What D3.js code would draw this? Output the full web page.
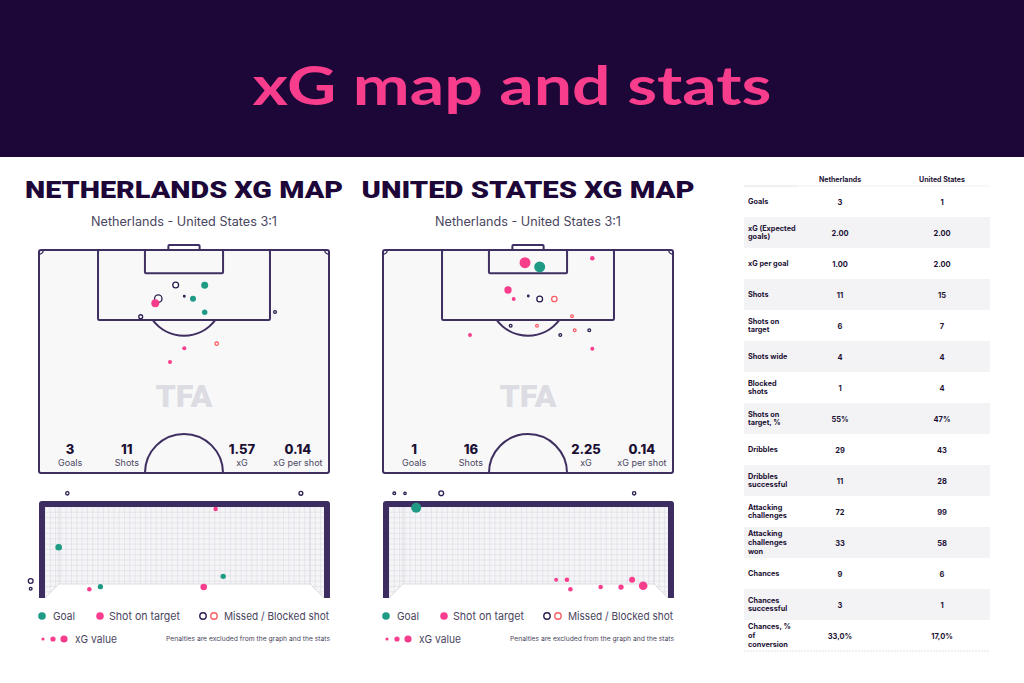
<!DOCTYPE html>
<html><head><meta charset="utf-8">
<script src="https://cdn.jsdelivr.net/npm/d3@7"></script>
<style>body{margin:0;background:#fff;} svg{display:block;font-family:Inter,"Open Sans",sans-serif;}</style>
</head><body><svg id="c" width="1024" height="683"></svg>
<script>
// ---------- DATA ----------
const pageTitle = "xG map and stats";
const mapTitles = ["NETHERLANDS XG MAP", "UNITED STATES XG MAP"];
const matchLabel = "Netherlands - United States 3:1";
const summaryLabels = ["Goals", "Shots", "xG", "xG per shot"];
const nlSummary = ["3", "11", "1.57", "0.14"];
const usSummary = ["1", "16", "2.25", "0.14"];

// pitch shots: [x metres across pitch, y metres from goal line, xG, outcome]
const nlShots = [
  [32.05, 8.24, 0.19, "missed"], [38.85, 8.31, 0.19, "goal"], [27.97, 11.46, 0.29, "missed"],
  [27.27, 12.55, 0.25, "target"], [34.07, 10.90, 0.016, "missed"], [36.11, 11.46, 0.14, "goal"],
  [38.85, 14.67, 0.115, "goal"], [23.85, 15.70, 0.10, "missed"], [55.34, 14.60, 0.063, "missed"],
  [34.07, 23.14, 0.063, "target"], [41.67, 22.06, 0.083, "blocked"], [30.72, 26.37, 0.063, "target"]
];
const usShots = [
  [33.30, 2.99, 0.47, "target"], [36.74, 4.00, 0.47, "goal"], [49.08, 1.95, 0.083, "target"],
  [29.31, 9.42, 0.21, "target"], [30.65, 11.54, 0.06, "target"], [34.07, 10.83, 0.016, "missed"],
  [36.74, 11.54, 0.19, "missed"], [40.17, 11.54, 0.17, "blocked"], [44.32, 15.61, 0.06, "blocked"],
  [29.94, 17.82, 0.06, "missed"], [36.11, 17.82, 0.06, "blocked"], [44.95, 18.90, 0.06, "blocked"],
  [48.37, 18.90, 0.06, "missed"], [41.57, 20.01, 0.06, "missed"], [20.40, 20.01, 0.06, "target"],
  [49.08, 23.24, 0.06, "target"]
];
// goal-face shots: [% across frame, % of crossbar height, xG, outcome]
const nlGoalShots = [
  [9.73, 111.1, 0.08, "missed"], [90.0, 111.1, 0.10, "missed"], [60.7, 94.8, 0.08, "target"],
  [6.77, 54.9, 0.17, "goal"], [-2.85, 19.8, 0.14, "missed"], [-2.85, 11.8, 0.06, "missed"],
  [17.3, 11.1, 0.08, "target"], [21.1, 13.9, 0.11, "goal"], [56.6, 13.5, 0.17, "target"],
  [63.3, 24.7, 0.11, "goal"]
];
const usGoalShots = [
  [3.88, 111.1, 0.06, "missed"], [7.56, 111.1, 0.05, "missed"], [20.0, 111.1, 0.14, "missed"],
  [86.3, 111.1, 0.08, "missed"], [11.4, 96.1, 0.39, "goal"], [59.5, 21.1, 0.06, "target"],
  [63.2, 21.1, 0.08, "target"], [64.4, 11.1, 0.08, "target"], [74.8, 13.5, 0.08, "target"],
  [81.8, 13.5, 0.11, "target"], [85.6, 21.1, 0.14, "target"], [89.4, 14.9, 0.29, "target"]
];

const legendItems = ["Goal", "Shot on target", "Missed / Blocked shot"];
const legendXg = "xG value";
const legendNote = "Penalties are excluded from the graph and the stats";

const tableTeams = ["Netherlands", "United States"];
const tableLabels = ["Goals", "xG (Expected|goals)", "xG per goal", "Shots", "Shots on|target", "Shots wide",
  "Blocked|shots", "Shots on|target, %", "Dribbles", "Dribbles|successful", "Attacking|challenges",
  "Attacking|challenges|won", "Chances", "Chances|successful", "Chances, %|of|conversion"];
const nlValues = ["3", "2.00", "1.00", "11", "6", "4", "1", "55%", "29", "11", "72", "33", "9", "3", "33,0%"];
const usValues = ["1", "2.00", "2.00", "15", "7", "4", "4", "47%", "43", "28", "99", "58", "6", "1", "17,0%"];

// ---------- STYLE ----------
const C = {
  header: "#1d0638", pink: "#f83d8c", teal: "#1e9a85", dark: "#2b1d4e", coral: "#ff5d66",
  line: "#3e2f60", text: "#1c1133", grey: "#4a4560", pitch: "#f8f8f9", band: "#f3f3f6"
};
const svg = d3.select("#c");
const rScale = d3.scaleSqrt().domain([0, 1]).range([0, 8]);

// header
svg.append("rect").attr("x", 0).attr("y", 0).attr("width", 1024).attr("height", 157).attr("fill", C.header);
svg.append("text").text(pageTitle).attr("x", 512).attr("y", 105).attr("text-anchor", "middle")
  .attr("font-family", "Lato, Inter, sans-serif").attr("font-weight", 700).attr("font-size", 54)
  .attr("fill", C.pink).attr("textLength", 519).attr("lengthAdjust", "spacingAndGlyphs");

function drawShot(g, x, y, d) {
  const r = Math.max(1, rScale(d[2]));
  const c = g.append("circle").attr("cx", x).attr("cy", y);
  if (d[3] === "goal") c.attr("r", r).attr("fill", C.teal);
  else if (d[3] === "target") c.attr("r", r).attr("fill", C.pink);
  else c.attr("r", Math.max(0.8, r - 0.6)).attr("fill", "#fff")
        .attr("stroke", d[3] === "missed" ? C.dark : C.coral).attr("stroke-width", 1.3);
}

function drawPanel(x0, title, titleWidth, summary, shots, goalShots) {
  const g = svg.append("g");
  const cx = x0 + 145;
  g.append("text").text(title).attr("x", cx).attr("y", 198).attr("text-anchor", "middle")
    .attr("font-family", "Roboto, 'DejaVu Sans', sans-serif").attr("font-weight", 900).attr("font-size", 23)
    .attr("fill", C.header).attr("textLength", titleWidth).attr("lengthAdjust", "spacingAndGlyphs");
  g.append("text").text(matchLabel).attr("x", cx).attr("y", 226).attr("text-anchor", "middle")
    .attr("font-size", 12.5).attr("fill", C.grey).attr("textLength", 186).attr("lengthAdjust", "spacingAndGlyphs");

  // pitch
  const xs = d3.scaleLinear().domain([0, 68]).range([x0, x0 + 290]);
  const ys = d3.scaleLinear().domain([0, 52.5]).range([250, 473]);
  const k = xs(1) - xs(0);
  const st = { fill: "none", stroke: C.line, "stroke-width": 2 };
  const ln = sel => { Object.entries(st).forEach(([a, v]) => sel.attr(a, v)); return sel; };
  g.append("rect").attr("x", xs(0)).attr("y", ys(0)).attr("width", xs(68) - xs(0)).attr("height", ys(52.5) - ys(0))
    .attr("rx", 2).attr("fill", C.pitch).attr("stroke", C.line).attr("stroke-width", 2);
  ln(g.append("rect")).attr("x", xs(13.84)).attr("y", ys(0)).attr("width", xs(54.16) - xs(13.84)).attr("height", ys(16.5) - ys(0)).attr("rx", 1.5);
  ln(g.append("rect")).attr("x", xs(24.84)).attr("y", ys(0)).attr("width", xs(43.16) - xs(24.84)).attr("height", ys(5.5) - ys(0)).attr("rx", 1.5);
  ln(g.append("rect")).attr("x", xs(30.34)).attr("y", ys(0) - 5).attr("width", xs(37.66) - xs(30.34)).attr("height", 5).attr("rx", 1);
  const R = 9.15 * k;
  ln(g.append("path")).attr("d", `M${xs(26.69)},${ys(16.5)} A${R},${R} 0 0 0 ${xs(41.31)},${ys(16.5)}`);
  ln(g.append("path")).attr("d", `M${xs(24.85)},${ys(52.5)} A${R},${R} 0 0 1 ${xs(43.15)},${ys(52.5)}`);
  ln(g.append("path")).attr("d", `M${xs(1)},${ys(0)} A${k},${k} 0 0 1 ${xs(0)},${ys(1)}`).attr("stroke-width", 1.5);
  ln(g.append("path")).attr("d", `M${xs(67)},${ys(0)} A${k},${k} 0 0 0 ${xs(68)},${ys(1)}`).attr("stroke-width", 1.5);
  g.append("text").text("TFA").attr("x", xs(34)).attr("y", 407).attr("text-anchor", "middle")
    .attr("font-family", "Roboto, sans-serif").attr("font-weight", 900).attr("font-size", 31)
    .attr("fill", "#dcdce2").attr("textLength", 57).attr("lengthAdjust", "spacingAndGlyphs");

  const statX = [7.3, 20.6, 47.6, 60.7];
  summary.forEach((v, i) => {
    g.append("text").text(v).attr("x", xs(statX[i])).attr("y", 454).attr("text-anchor", "middle")
      .attr("font-weight", 800).attr("font-size", 13).attr("fill", C.text);
    g.append("text").text(summaryLabels[i]).attr("x", xs(statX[i])).attr("y", 466).attr("text-anchor", "middle")
      .attr("font-size", 9).attr("fill", C.grey);
  });
  shots.forEach(d => drawShot(g, xs(d[0]), ys(d[1]), d));

  // goal view
  const gx = d3.scaleLinear().domain([0, 100]).range([x0, x0 + 291]);
  const gy = d3.scaleLinear().domain([0, 100]).range([600, 504]);
  const L = x0 + 6, Rr = x0 + 285, T = 507, B = 598, BL = x0 + 20, BR = x0 + 271, F = 584;
  const clipId = "net" + x0;
  const poly = `${L},${T} ${Rr},${T} ${Rr},${B} ${BR},${F} ${BL},${F} ${L},${B}`;
  g.append("clipPath").attr("id", clipId).append("polygon").attr("points", poly);
  g.append("polygon").attr("points", poly).attr("fill", "#f5f5f7");
  const net = g.append("g").attr("clip-path", `url(#${clipId})`).attr("stroke", "#dfdee6").attr("stroke-width", 0.7);
  for (let x = L; x <= Rr; x += 5.3) net.append("line").attr("x1", x).attr("x2", x).attr("y1", T).attr("y2", B);
  for (let y = T; y <= B; y += 5.3) net.append("line").attr("x1", L).attr("x2", Rr).attr("y1", y).attr("y2", y);
  g.append("path").attr("d", `M${L},${B} L${BL},${F} L${BR},${F} L${Rr},${B} M${BL},${T} L${BL},${F} M${BR},${T} L${BR},${F}`)
    .attr("fill", "none").attr("stroke", "#d6d5dd").attr("stroke-width", 0.8);
  g.append("path").attr("d", `M${x0 + 3},${B} L${x0 + 3},${504} L${x0 + 288},${504} L${x0 + 288},${B}`)
    .attr("fill", "none").attr("stroke", "#3d2c5f").attr("stroke-width", 6).attr("stroke-linejoin", "round");
  goalShots.forEach(d => drawShot(g, gx(d[0]), gy(d[1]), d));

  // legend
  const lg = svg.append("g").attr("font-size", 11).attr("fill", C.grey);
  const ly = 616, ly2 = 639;
  const fit = (sel, w) => sel.attr("textLength", w).attr("lengthAdjust", "spacingAndGlyphs");
  lg.append("circle").attr("cx", x0 + 3).attr("cy", ly).attr("r", 3.8).attr("fill", C.teal);
  fit(lg.append("text").text(legendItems[0]).attr("x", x0 + 14).attr("y", ly + 4), 22);
  lg.append("circle").attr("cx", x0 + 61).attr("cy", ly).attr("r", 3.8).attr("fill", C.pink);
  fit(lg.append("text").text(legendItems[1]).attr("x", x0 + 70).attr("y", ly + 4), 71);
  lg.append("circle").attr("cx", x0 + 164).attr("cy", ly).attr("r", 3.2).attr("fill", "none").attr("stroke", C.dark).attr("stroke-width", 1.4);
  lg.append("circle").attr("cx", x0 + 175).attr("cy", ly).attr("r", 3.2).attr("fill", "none").attr("stroke", C.coral).attr("stroke-width", 1.4);
  fit(lg.append("text").text(legendItems[2]).attr("x", x0 + 185).attr("y", ly + 4), 105);
  [[4, 1.6], [14, 2.6], [25, 3.6]].forEach(([dx, r]) =>
    lg.append("circle").attr("cx", x0 + dx).attr("cy", ly2).attr("r", r).attr("fill", C.pink));
  fit(lg.append("text").text(legendXg).attr("x", x0 + 36).attr("y", ly2 + 4), 42);
  fit(lg.append("text").text(legendNote).attr("x", x0 + 127).attr("y", ly2 + 2).attr("font-size", 6.5), 164);
}

drawPanel(39, mapTitles[0], 318, nlSummary, nlShots, nlGoalShots);
drawPanel(383, mapTitles[1], 333, usSummary, usShots, usGoalShots);

// ---------- TABLE ----------
const tb = svg.append("g");
const rowY = d3.scaleBand().domain(d3.range(tableLabels.length)).range([186, 651]).padding(0);
const colX = [840, 942];
tableTeams.forEach((t, i) => tb.append("text").text(t).attr("x", colX[i]).attr("y", 182).attr("text-anchor", "middle")
  .attr("font-size", 7).attr("font-weight", 700).attr("fill", C.text));
tb.append("line").attr("x1", 744).attr("x2", 990).attr("y1", 186).attr("y2", 186).attr("stroke", "#ececf2").attr("stroke-width", 0.8);
tb.append("line").attr("x1", 745).attr("x2", 797).attr("y1", 186).attr("y2", 186).attr("stroke", "#d3d3dc").attr("stroke-width", 0.8).attr("stroke-dasharray", "1,1");
tableLabels.forEach((lab, i) => {
  const y0 = rowY(i), h = rowY.bandwidth(), mid = y0 + h / 2;
  if (i % 2 === 1) tb.append("rect").attr("x", 744).attr("y", y0).attr("width", 246).attr("height", h).attr("fill", C.band);
  const lines = lab.split("|");
  const lh = 8.6;
  const t = tb.append("text").attr("font-size", 7.3).attr("font-weight", 700).attr("fill", C.text);
  lines.forEach((s, j) => t.append("tspan").text(s).attr("x", 748).attr("y", mid + 2.5 + (j - (lines.length - 1) / 2) * lh));
  [nlValues[i], usValues[i]].forEach((v, j) => tb.append("text").text(v).attr("x", colX[j]).attr("y", mid + 3)
    .attr("text-anchor", "middle").attr("font-size", 7.5).attr("font-weight", 700).attr("fill", C.text));
});
tb.append("line").attr("x1", 744).attr("x2", 990).attr("y1", 651).attr("y2", 651).attr("stroke", "#dcdce4").attr("stroke-width", 0.8).attr("stroke-dasharray", "2,1");
</script></body></html>
